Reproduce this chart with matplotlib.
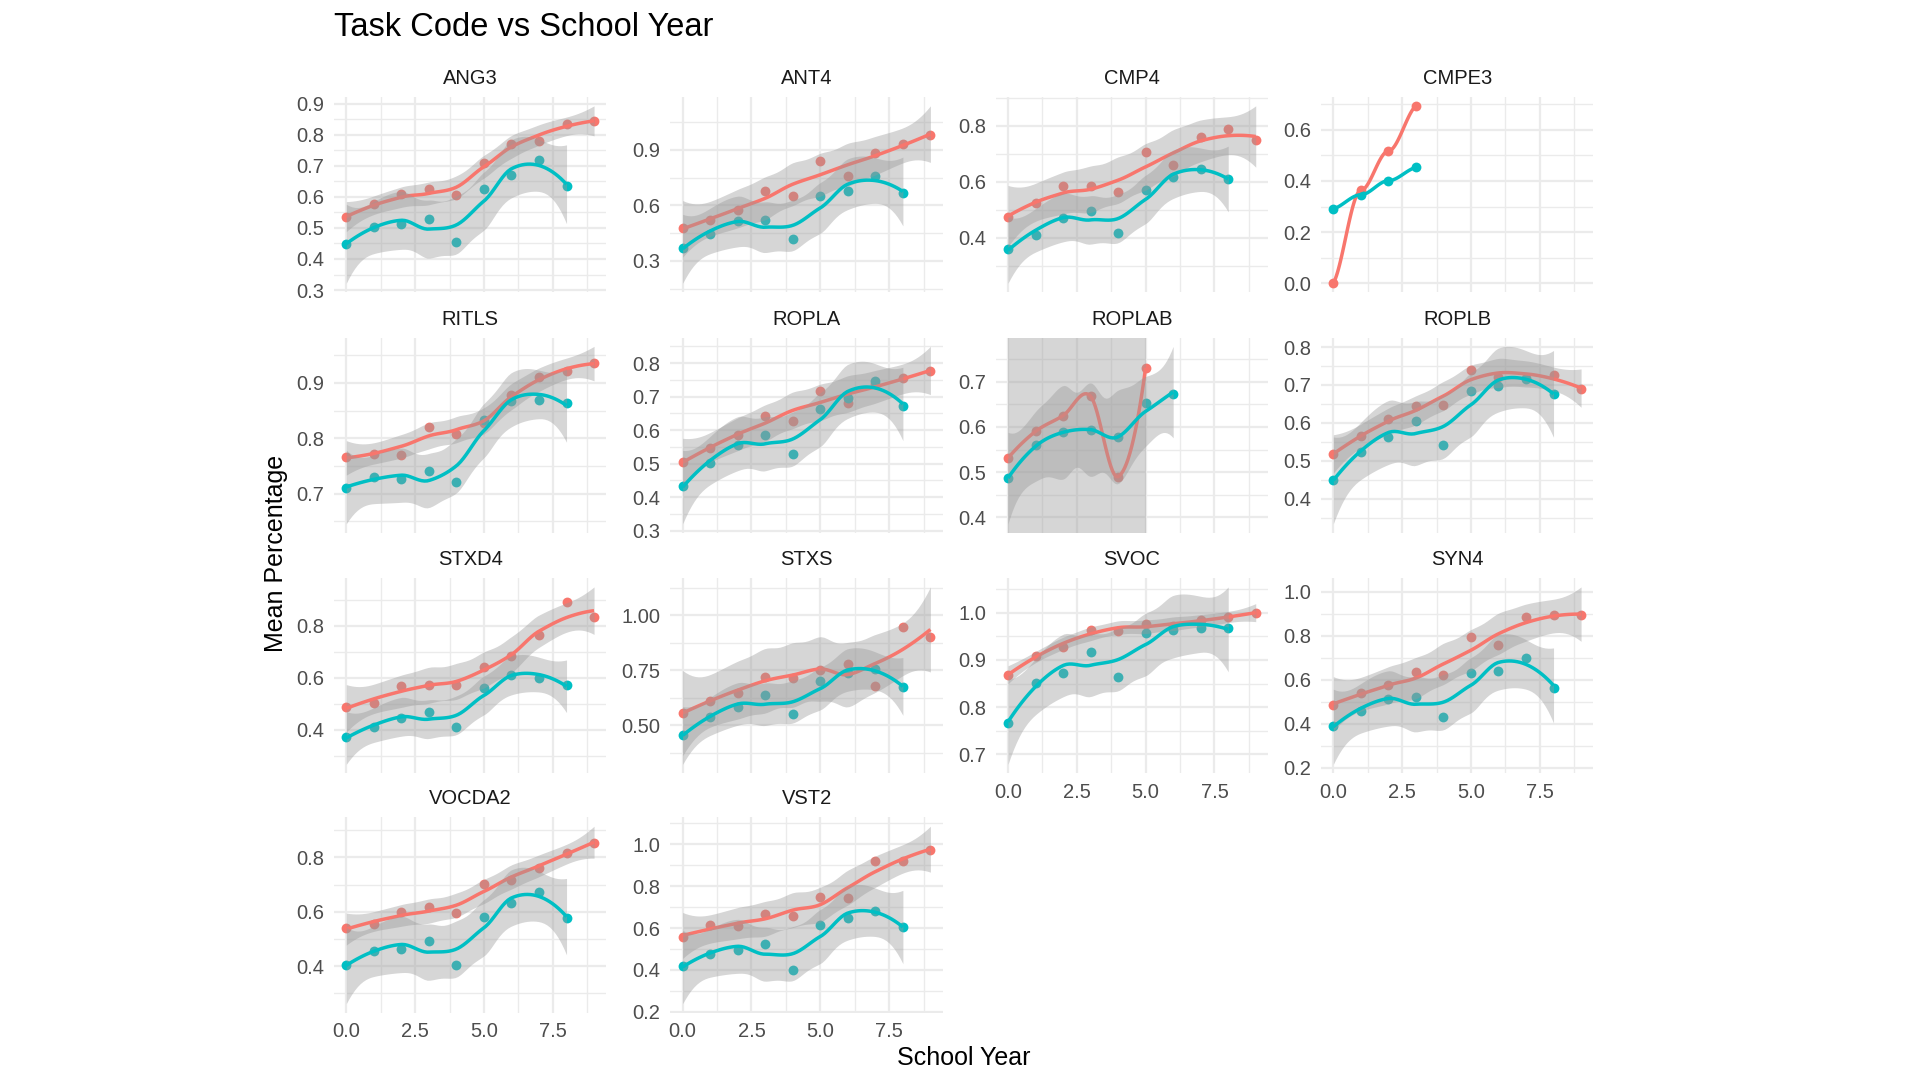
import numpy as np
import matplotlib
matplotlib.use("Agg")
import matplotlib.pyplot as plt
from math import lgamma, pi, sqrt, exp

plt.rcParams['font.family'] = ['Liberation Sans', 'DejaVu Sans']

# school years per group
year_a = [0, 1, 2, 3, 4, 5, 6, 7, 8, 9]
year_b = [0, 1, 2, 3, 4, 5, 6, 7, 8]
year_cmpe3 = [0, 1, 2, 3]
year_roplab_a = [0, 1, 2, 3, 4, 5]
year_roplab_b = [0, 1, 2, 3, 4, 5, 6]

# mean percentage, red group (a) and teal group (b)
ang3_a = [0.534, 0.576, 0.608, 0.625, 0.607, 0.709, 0.770, 0.779, 0.836, 0.844]
ang3_b = [0.449, 0.503, 0.514, 0.529, 0.456, 0.625, 0.670, 0.720, 0.635]
ant4_a = [0.477, 0.519, 0.577, 0.680, 0.648, 0.841, 0.761, 0.885, 0.932, 0.980]
ant4_b = [0.372, 0.443, 0.515, 0.519, 0.416, 0.648, 0.676, 0.761, 0.667]
cmp4_a = [0.475, 0.523, 0.584, 0.584, 0.564, 0.707, 0.659, 0.761, 0.787, 0.750]
cmp4_b = [0.361, 0.409, 0.470, 0.495, 0.415, 0.571, 0.616, 0.644, 0.610]
cmpe3_a = [0.0, 0.363, 0.517, 0.694]
cmpe3_b = [0.291, 0.346, 0.401, 0.453]
ritls_a = [0.767, 0.772, 0.770, 0.821, 0.808, 0.828, 0.879, 0.911, 0.922, 0.936]
ritls_b = [0.711, 0.730, 0.726, 0.741, 0.721, 0.834, 0.868, 0.870, 0.863]
ropla_a = [0.505, 0.546, 0.585, 0.641, 0.628, 0.718, 0.680, 0.738, 0.756, 0.776]
ropla_b = [0.433, 0.502, 0.555, 0.586, 0.529, 0.664, 0.695, 0.746, 0.672]
roplab_a = [0.531, 0.590, 0.625, 0.668, 0.490, 0.731]
roplab_b = [0.486, 0.560, 0.588, 0.594, 0.578, 0.654, 0.672]
roplb_a = [0.517, 0.566, 0.611, 0.644, 0.646, 0.739, 0.722, 0.718, 0.725, 0.689]
roplb_b = [0.450, 0.524, 0.564, 0.604, 0.541, 0.684, 0.698, 0.716, 0.677]
stxd4_a = [0.487, 0.503, 0.567, 0.573, 0.572, 0.643, 0.685, 0.763, 0.892, 0.832]
stxd4_b = [0.372, 0.409, 0.445, 0.469, 0.409, 0.559, 0.609, 0.599, 0.572]
stxs_a = [0.558, 0.610, 0.645, 0.721, 0.716, 0.749, 0.779, 0.677, 0.945, 0.902]
stxs_b = [0.457, 0.536, 0.582, 0.637, 0.550, 0.702, 0.737, 0.756, 0.674]
svoc_a = [0.868, 0.909, 0.928, 0.964, 0.961, 0.976, 0.972, 0.985, 0.991, 1.0]
svoc_b = [0.767, 0.851, 0.872, 0.917, 0.864, 0.957, 0.964, 0.968, 0.968]
syn4_a = [0.486, 0.541, 0.574, 0.636, 0.620, 0.793, 0.758, 0.885, 0.893, 0.893]
syn4_b = [0.391, 0.455, 0.514, 0.522, 0.430, 0.630, 0.641, 0.700, 0.564]
vocda2_a = [0.539, 0.555, 0.600, 0.617, 0.594, 0.702, 0.717, 0.763, 0.817, 0.855]
vocda2_b = [0.403, 0.457, 0.464, 0.492, 0.403, 0.581, 0.632, 0.674, 0.577]
vst2_a = [0.558, 0.613, 0.608, 0.667, 0.658, 0.747, 0.745, 0.920, 0.920, 0.975]
vst2_b = [0.417, 0.475, 0.497, 0.525, 0.400, 0.612, 0.650, 0.683, 0.603]

task_codes = ["ANG3", "ANT4", "CMP4", "CMPE3", "RITLS", "ROPLA", "ROPLAB",
              "ROPLB", "STXD4", "STXS", "SVOC", "SYN4", "VOCDA2", "VST2"]

panels = [
    (year_a, ang3_a, year_b, ang3_b),
    (year_a, ant4_a, year_b, ant4_b),
    (year_a, cmp4_a, year_b, cmp4_b),
    (year_cmpe3, cmpe3_a, year_cmpe3, cmpe3_b),
    (year_a, ritls_a, year_b, ritls_b),
    (year_a, ropla_a, year_b, ropla_b),
    (year_roplab_a, roplab_a, year_roplab_b, roplab_b),
    (year_a, roplb_a, year_b, roplb_b),
    (year_a, stxd4_a, year_b, stxd4_b),
    (year_a, stxs_a, year_b, stxs_b),
    (year_a, svoc_a, year_b, svoc_b),
    (year_a, syn4_a, year_b, syn4_b),
    (year_a, vocda2_a, year_b, vocda2_b),
    (year_a, vst2_a, year_b, vst2_b),
]

# tick labels
x_ticks = [0.0, 2.5, 5.0, 7.5]
x_labels = ["0.0", "2.5", "5.0", "7.5"]
y_labels = [
    ["0.3", "0.4", "0.5", "0.6", "0.7", "0.8", "0.9"],
    ["0.3", "0.6", "0.9"],
    ["0.4", "0.6", "0.8"],
    ["0.0", "0.2", "0.4", "0.6"],
    ["0.7", "0.8", "0.9"],
    ["0.3", "0.4", "0.5", "0.6", "0.7", "0.8"],
    ["0.3", "0.4", "0.5", "0.6", "0.7", "0.8"],
    ["0.4", "0.5", "0.6", "0.7", "0.8"],
    ["0.4", "0.6", "0.8"],
    ["0.50", "0.75", "1.00"],
    ["0.7", "0.8", "0.9", "1.0"],
    ["0.2", "0.4", "0.6", "0.8", "1.0"],
    ["0.4", "0.6", "0.8"],
    ["0.2", "0.4", "0.6", "0.8", "1.0"],
]

RED = '#F8766D'
TEAL = '#00BFC4'
SPAN = 0.75


# --- loess (degree 2, span 0.75, kd-tree vertices + cubic hermite) ---
def kd_vertices(x):
    xs = np.sort(x)
    n = len(xs)
    fc = int(np.floor(n * SPAN * 0.2))
    lo, hi = xs[0], xs[-1]
    mu = 0.005 * max(hi - lo, 1e-10 * max(abs(lo), abs(hi)) + 1e-30)
    verts = {lo - mu, hi + mu}

    def split(l, u, vl, vu):
        if u - l + 1 <= fc:
            return
        m = (l + u) // 2
        xi = xs[m - 1]
        if xi == vl or xi == vu:
            return
        verts.add(xi)
        split(l, m, vl, xi)
        split(m + 1, u, xi, vu)

    split(1, n, lo - mu, hi + mu)
    return np.array(sorted(verts))


def local_operator(x, v, q):
    d = np.abs(x - v)
    rho = np.sort(d)[q - 1]
    w = np.where(d < rho, (1 - (d / rho) ** 3) ** 3, 0.0)
    X = np.column_stack([np.ones_like(x), x - v, (x - v) ** 2])
    sw = np.sqrt(w)
    A = X * sw[:, None]
    sc = np.linalg.norm(A, axis=0)
    sc[sc == 0] = 1.0
    As = A / sc
    rank = np.linalg.matrix_rank(As)
    P = np.linalg.pinv(As, rcond=1e-10) / sc[:, None]
    ops = P * sw[None, :]
    return ops[0], ops[1], rank


def hermite(xq, verts, vals, slopes):
    i = np.clip(np.searchsorted(verts, xq, side='right') - 1, 0, len(verts) - 2)
    x0, x1 = verts[i], verts[i + 1]
    h = x1 - x0
    t = (xq - x0) / h
    h00 = 2 * t**3 - 3 * t**2 + 1
    h10 = t**3 - 2 * t**2 + t
    h01 = -2 * t**3 + 3 * t**2
    h11 = t**3 - t**2
    return (h00[:, None] * vals[i] + (h10 * h)[:, None] * slopes[i]
            + h01[:, None] * vals[i + 1] + (h11 * h)[:, None] * slopes[i + 1])


def t_quantile(p, df):
    c = exp(lgamma((df + 1) / 2) - lgamma(df / 2)) / sqrt(df * pi)

    def cdf(t):
        s = np.linspace(0, t, 4001)
        return 0.5 + np.trapezoid(c * (1 + s**2 / df) ** (-(df + 1) / 2), s)

    lo, hi = 0.0, 1000.0
    for _ in range(70):
        mid = (lo + hi) / 2
        if cdf(mid) < p:
            lo = mid
        else:
            hi = mid
    return (lo + hi) / 2


def loess_smooth(x, y):
    x = np.asarray(x, float)
    y = np.asarray(y, float)
    n = len(x)
    q = int(np.floor(n * SPAN))
    verts = kd_vertices(x)
    L0, L1, full = [], [], True
    for v in verts:
        a, b, r = local_operator(x, v, q)
        L0.append(a)
        L1.append(b)
        full = full and r == 3
    L0 = np.array(L0)
    L1 = np.array(L1)
    grid = np.linspace(x.min(), x.max(), 80)
    Lg = hermite(grid, verts, L0, L1)
    Ld = hermite(x, verts, L0, L1)
    fit = Lg @ y
    if not full:
        # singular local fits: no band
        return grid, fit, None, None
    R = np.eye(n) - Ld
    M = R.T @ R
    one = np.trace(M)
    two = np.trace(M @ M)
    if one < 1e-8:
        # exact interpolation: band is unbounded
        return grid, fit, np.full_like(fit, -np.inf), np.full_like(fit, np.inf)
    sigma = sqrt(np.sum((R @ y) ** 2) / one)
    se = sigma * np.sqrt(np.sum(Lg**2, axis=1))
    tq = t_quantile(0.975, one**2 / two)
    return grid, fit, fit - tq * se, fit + tq * se


# --- layout ---
fig = plt.figure(figsize=(19.2, 10.8), dpi=100)
W, H = 1564.0, 880.0
col_left = [272, 546, 811, 1076]
row_top = [79, 275, 471, 666]
pw, ph = 222, 159
bottom_of_col = {0: 12, 1: 13, 2: 10, 3: 11}

all_x = np.concatenate([np.asarray(p[0] + p[2], float) for p in panels])
xr = all_x.max() - all_x.min()
xlim = (all_x.min() - 0.05 * xr, all_x.max() + 0.05 * xr)
x_minor = [1.25, 3.75, 6.25, 8.75]

for k, (code, (xa, ya, xb, yb)) in enumerate(zip(task_codes, panels)):
    r, c = divmod(k, 4)
    ax = fig.add_axes([col_left[c] / W, 1 - (row_top[r] + ph) / H, pw / W, ph / H])

    smooths = [loess_smooth(xa, ya), loess_smooth(xb, yb)]
    vals = list(ya) + list(yb)
    for g, f, lo, hi in smooths:
        vals += list(f)
        if lo is not None:
            vals += [v for v in np.concatenate([lo, hi]) if np.isfinite(v)]
    vmin, vmax = min(vals), max(vals)
    ylim = (vmin - 0.05 * (vmax - vmin), vmax + 0.05 * (vmax - vmin))

    ax.scatter(xa, ya, s=50, color=RED, linewidths=0, zorder=2)
    ax.scatter(xb, yb, s=50, color=TEAL, linewidths=0, zorder=2)
    for (g, f, lo, hi), col in zip(smooths, [RED, TEAL]):
        if lo is not None:
            lo = np.clip(lo, ylim[0], ylim[1])
            hi = np.clip(hi, ylim[0], ylim[1])
            ax.fill_between(g, lo, hi, color='#999999', alpha=0.4, lw=0, zorder=2)
        ax.plot(g, f, color=col, lw=2.5, zorder=2, solid_capstyle='butt')

    yt = [float(s) for s in y_labels[k]]
    step = yt[1] - yt[0]
    ax.set_yticks(yt)
    ax.set_yticklabels(y_labels[k])
    ax.set_yticks([yt[0] - step / 2] + [(a + b) / 2 for a, b in zip(yt[:-1], yt[1:])]
                  + [yt[-1] + step / 2], minor=True)
    ax.set_xticks(x_ticks)
    ax.set_xticks(x_minor, minor=True)
    if bottom_of_col[c] == k:
        ax.set_xticklabels(x_labels)
    else:
        ax.set_xticklabels([])
    # limits after ticks so the tick lists don't widen the view
    ax.set_xlim(*xlim)
    ax.set_ylim(*ylim)

    ax.grid(which='major', color='#EBEBEB', lw=1.6)
    ax.grid(which='minor', color='#EBEBEB', lw=1.0)
    ax.set_axisbelow(True)
    ax.tick_params(which='both', length=0, labelsize=14.5, labelcolor='#4D4D4D', pad=7)
    for s in ax.spines.values():
        s.set_visible(False)
    ax.text(0.5, 1 + 15 / ph, code, transform=ax.transAxes, ha='center', va='center',
            fontsize=14.5, color='#1A1A1A')

fig.text(272 / W, 1 - 22 / H, "Task Code vs School Year", ha='left', va='center',
         fontsize=23.5, color='black')
fig.text(225 / W, 1 - 451 / H, "Mean Percentage", rotation=90, ha='center',
         va='center', fontsize=18, color='black')
fig.text(785 / W, 1 - 862 / H, "School Year", ha='center', va='center',
         fontsize=18, color='black')

fig.savefig("out.png", dpi=100, facecolor='white')
